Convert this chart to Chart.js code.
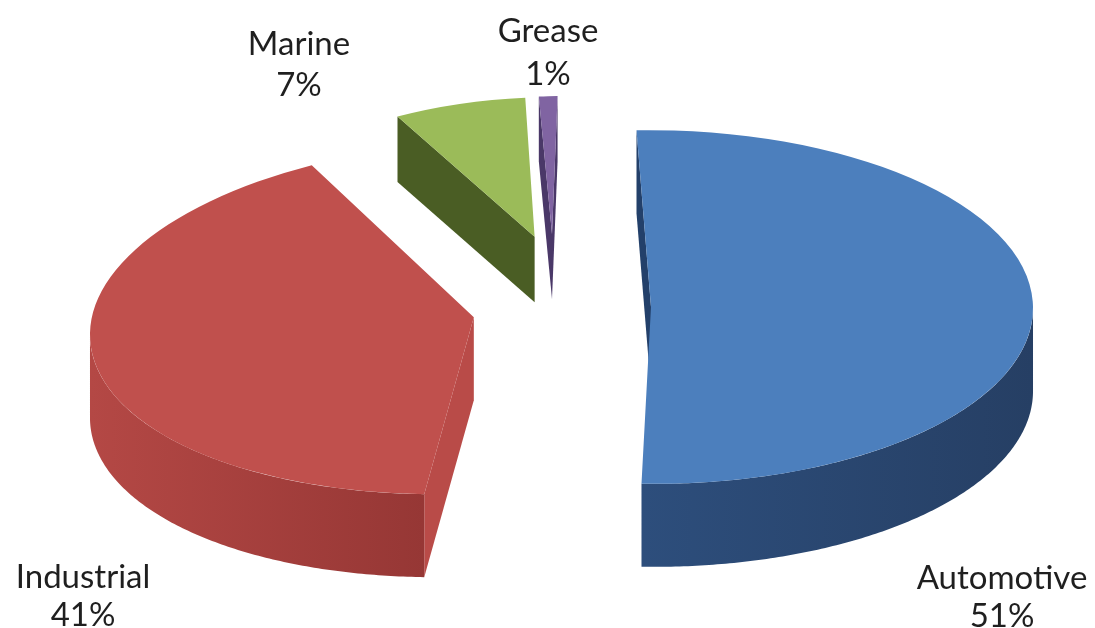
<!DOCTYPE html>
<html>
<head>
<meta charset="utf-8">
<title>Lubricant demand by segment</title>
<script src="https://cdn.jsdelivr.net/npm/chart.js@4/dist/chart.umd.min.js"></script>
<style>
  html, body { margin: 0; padding: 0; background: #ffffff; }
  #wrap { position: relative; width: 1095px; height: 628px; }
</style>
</head>
<body>
<div id="wrap"><canvas id="chart"></canvas></div>
<script>
// Segment names and their shares (%)
const categories = ['Automotive', 'Industrial', 'Marine', 'Grease'];
const shares = [51, 41, 7, 1];

// Face and side colours of each slice
const topColors  = ['#4C7FBD', '#C0504D', '#9BBB59', '#8064A2'];
const rimColors  = [['#2D4E7C', '#263F64'], ['#B44845', '#963735'], ['#4E6126', '#4E6126'], ['#4B3A66', '#4B3A66']];
const edgeColors = ['#23406A', '#B94B48', '#4A5D24', '#4A3868'];

// Extruded, exploded pie seen from above at an angle: every arc element is
// flattened into an ellipse, given a light perspective (slices further back
// shrink, receding edges lean towards the vanishing point) and its visible
// side walls are filled underneath.
const pie3d = {
  id: 'pie3d',
  beforeDatasetsDraw(chart, args, opts) {
    const ctx = chart.ctx;
    const arcs = chart.getDatasetMeta(0).data;
    const k = opts.tilt, E = opts.explode;
    const cx0 = arcs[0].x, cy0 = arcs[0].y;
    const F = { x: cx0 + opts.focus.dx, y: cy0 + opts.focus.dy };
    const vx = cx0 + opts.vanishX;

    const slices = arcs.map((el, i) => {
      const p = el.getProps(['x', 'y', 'startAngle', 'endAngle', 'outerRadius']);
      const mid = (p.startAngle + p.endAngle) / 2;
      const ex = E * Math.cos(mid), ey = E * Math.sin(mid);
      const T = { x: p.x + ex, y: cy0 + (p.y + ey - cy0) * k };
      const s = 1 / (1 + opts.recede * Math.max(0, -Math.sin(mid)));
      const sh = opts.lean * (T.x - vx);
      const Tp = { x: F.x + s * (T.x - F.x), y: F.y + s * (T.y - F.y) };
      const map = (a, rr) => {
        const dx = rr * Math.cos(a), dy = k * rr * Math.sin(a);
        return { x: Tp.x + s * (dx + sh * dy), y: Tp.y + s * dy };
      };
      return {
        el, i, mid, ex, ey, T, Tp, s, sh, map,
        r: p.outerRadius, a0: p.startAngle, a1: p.endAngle, D: opts.depth * s
      };
    });

    const radialWall = (s, a) => {
      const R = s.map(a, s.r);
      const I = s.map(s.mid, s.r / 2);
      const vX = R.x - s.Tp.x, vY = R.y - s.Tp.y;
      const c1 = vX;
      const c2 = vX * (I.y - s.Tp.y) - vY * (I.x - s.Tp.x);
      if (c1 * c2 >= 0) return;
      ctx.beginPath();
      ctx.moveTo(s.Tp.x, s.Tp.y);
      ctx.lineTo(R.x, R.y);
      ctx.lineTo(R.x, R.y + s.D);
      ctx.lineTo(s.Tp.x, s.Tp.y + s.D);
      ctx.closePath();
      ctx.fillStyle = opts.edgeColors[s.i];
      ctx.fill();
    };

    const outerWall = (s) => {
      const alpha = Math.atan(s.sh * k);
      [-2 * Math.PI, 0, 2 * Math.PI].forEach(base => {
        const lo = Math.max(s.a0, alpha + base);
        const hi = Math.min(s.a1, alpha + Math.PI + base);
        if (hi - lo <= 1e-4) return;
        const n = Math.max(8, Math.ceil((hi - lo) * 90));
        const pts = [];
        for (let j = 0; j <= n; j++) pts.push(s.map(lo + (hi - lo) * j / n, s.r));
        const xs = pts.map(q => q.x);
        const g = ctx.createLinearGradient(Math.min(...xs), 0, Math.max(...xs), 0);
        g.addColorStop(0, opts.rimColors[s.i][0]);
        g.addColorStop(1, opts.rimColors[s.i][1]);
        ctx.beginPath();
        pts.forEach((q, j) => j ? ctx.lineTo(q.x, q.y) : ctx.moveTo(q.x, q.y));
        for (let j = n; j >= 0; j--) ctx.lineTo(pts[j].x, pts[j].y + s.D);
        ctx.closePath();
        ctx.fillStyle = g;
        ctx.fill();
      });
    };

    // side walls, back slices first
    slices.slice().sort((a, b) => a.Tp.y - b.Tp.y).forEach(s => {
      radialWall(s, s.a0);
      radialWall(s, s.a1);
      outerWall(s);
    });

    // top faces, drawn by the arc elements themselves
    slices.forEach(s => {
      ctx.save();
      ctx.transform(s.s, 0, s.s * s.sh, s.s,
        s.Tp.x - s.s * (s.T.x + s.sh * s.T.y), s.Tp.y - s.s * s.T.y);
      ctx.translate(0, cy0);
      ctx.scale(1, k);
      ctx.translate(0, -cy0);
      ctx.translate(s.ex, s.ey);
      s.el.draw(ctx);
      ctx.restore();
    });
    return false;
  },
  afterDraw(chart, args, opts) {
    const ctx = chart.ctx;
    const data = chart.data;
    ctx.save();
    ctx.font = opts.font;
    ctx.fillStyle = opts.color;
    ctx.textAlign = 'center';
    ctx.textBaseline = 'alphabetic';
    data.labels.forEach((name, i) => {
      const pos = opts.labelPos[i];
      ctx.fillText(name, pos.x, pos.y);
      ctx.fillText(data.datasets[0].data[i] + '%', pos.x, pos.y + pos.gap);
    });
    ctx.restore();
  }
};

new Chart(document.getElementById('chart'), {
  type: 'pie',
  data: {
    labels: categories,
    datasets: [{
      data: shares,
      backgroundColor: topColors,
      borderWidth: 0,
      offset: 0,
      hoverOffset: 0
    }]
  },
  options: {
    responsive: true,
    maintainAspectRatio: false,
    animation: false,
    radius: 382,
    rotation: -1.8,
    layout: { padding: { left: 27, right: 0, top: 0, bottom: 14 } },
    events: [],
    plugins: {
      legend: { display: false },
      tooltip: { enabled: false },
      pie3d: {
        tilt: 0.463,
        depth: 83,
        explode: 90,
        recede: 0.28,
        lean: 0.00128,
        vanishX: 79,
        focus: { dx: -21, dy: -185 },
        rimColors: rimColors,
        edgeColors: edgeColors,
        font: '33px Lato',
        color: '#1f1f1f',
        labelPos: [
          { x: 1002, y: 589, gap: 38 },
          { x: 83, y: 588, gap: 38 },
          { x: 299, y: 55, gap: 41 },
          { x: 548, y: 42, gap: 43 }
        ]
      }
    }
  },
  plugins: [pie3d]
});
</script>
</body>
</html>
